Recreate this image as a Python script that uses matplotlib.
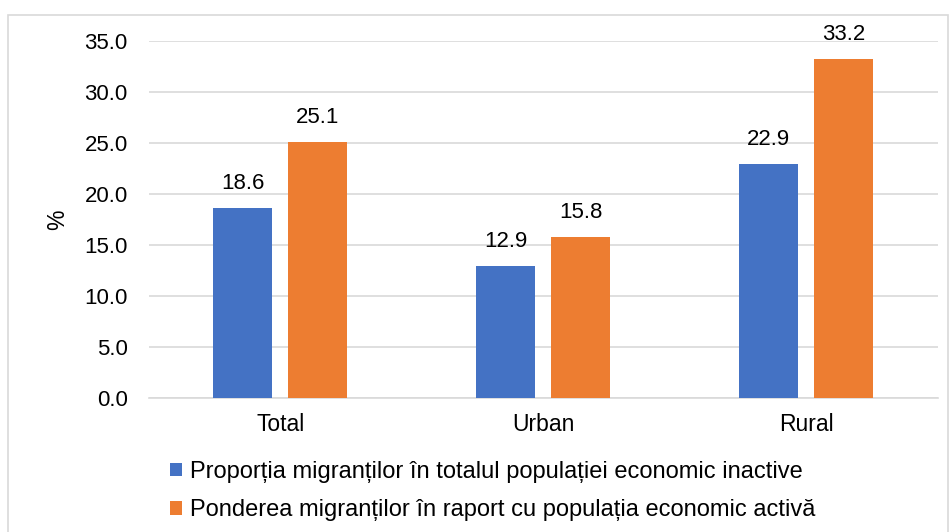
import numpy as np
import matplotlib
matplotlib.use("Agg")
import matplotlib.pyplot as plt
from matplotlib.patches import Rectangle

# data
categories = ["Total", "Urban", "Rural"]
inactive = [18.6, 12.9, 22.9]
active = [25.1, 15.8, 33.2]
series_names = [
    "Proporția migranților în totalul populației economic inactive",
    "Ponderea migranților în raport cu populația economic activă",
]
yticks = [0, 5, 10, 15, 20, 25, 30, 35]

BLUE = "#4472C4"
ORANGE = "#ED7D31"

plt.rcParams["font.family"] = ["Liberation Sans", "DejaVu Sans"]

fig = plt.figure(figsize=(9.53, 5.32), dpi=100)
ax = fig.add_axes([0.156, 0.252, 0.828, 0.671])

x = np.arange(len(categories))
w = 0.225
off = 0.143
b1 = ax.bar(x - off, inactive, w, color=BLUE, label=series_names[0], zorder=3)
b2 = ax.bar(x + off, active, w, color=ORANGE, label=series_names[1], zorder=3)

for bars, vals in ((b1, inactive), (b2, active)):
    for r, v in zip(bars, vals):
        ax.annotate(f"{v:.1f}", (r.get_x() + r.get_width() / 2, v),
                    xytext=(0, 10), textcoords="offset points",
                    ha="center", va="bottom", fontsize=16)

ax.set_xlim(-0.5, 2.5)
ax.set_ylim(0, 35)
ax.set_yticks(yticks)
ax.set_yticklabels([f"{t:.1f}" for t in yticks], fontsize=16)
ax.set_xticks(x)
ax.set_xticklabels(categories, fontsize=16.5)
ax.tick_params(axis="both", length=0)
ax.tick_params(axis="y", pad=15)
ax.tick_params(axis="x", pad=11)
ax.yaxis.grid(True, color="#D9D9D9", linewidth=1.2, zorder=0)
ax.set_axisbelow(True)
for s in ("left", "right", "top"):
    ax.spines[s].set_visible(False)
ax.spines["bottom"].set_color("#D9D9D9")
ax.spines["bottom"].set_linewidth(1.2)

fig.text(58 / 953, 1 - 220 / 532, "%", rotation=90, fontsize=16.5,
         ha="center", va="center")

fig.legend(loc="center left", bbox_to_anchor=(158 / 953, 1 - 491 / 532), ncol=1,
           frameon=False, fontsize=17, handlelength=0.5, handleheight=0.5,
           handletextpad=0.35, labelspacing=0.7, borderpad=0)

# outer frame
fig.patches.append(Rectangle((8 / 953, -0.01), 940 / 953, 1 - 15 / 532 + 0.01,
                             transform=fig.transFigure, fill=False,
                             edgecolor="#D9D9D9", linewidth=1.2))

fig.savefig("out.png", dpi=100)
